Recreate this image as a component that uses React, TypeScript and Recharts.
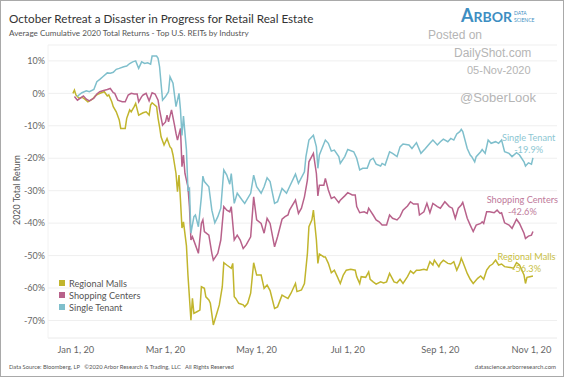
import React from 'react'
import { LineChart, Line, XAxis, YAxis, CartesianGrid } from 'recharts'

document.body.style.margin = '0'

// day index from Jan 1 2020, cumulative total return in %
const regionalMalls: [number, number][] = [
  [-2, 0], [-1, 1.0], [0, -0.5], [2, -1.5], [4, -1.2], [6, -1.8], [8, -2.6], [11, -1.8], [13, -0.8], [15, -0.2],
  [17, 0.2], [19, 0.5], [21, -0.8], [22, -0.5], [24, -2.6], [25, -4.1], [27, -5.7], [29, -8.2], [30, -10.8], [33, -10.8],
  [34, -7.7], [36, -5.1], [37, -5.7], [39, -4.1], [40, -3.1], [42, -6.7], [45, -6.0], [47, -5.7], [49, -6.7], [50, -3.6],
  [51, -2.9], [54, -4.1], [55, -7.7], [56, -10.3], [57, -13.4], [59, -15.9], [60, -14.9], [61, -13.9], [63, -16.5], [64, -17],
  [65, -19], [67, -24.7], [68, -30.3], [69, -25.2], [70, -32.9], [71, -41.5], [72, -39.6], [74, -47], [75, -56], [77, -69.9],
  [78, -63.2], [79, -67.8], [81, -67.3], [83, -66.8], [84, -59.6], [86, -60.1], [87, -62.7], [89, -63.7], [90, -64.7], [92, -71.4],
  [94, -68.3], [96, -65.2], [98, -59.6], [99, -52.2], [101, -52.9], [104, -53.9], [105, -52.4], [106, -62.7], [107, -63.2], [109, -64.7],
  [112, -65.2], [113, -65.8], [115, -64.7], [117, -61.6], [119, -52.2], [121, -56], [124, -56], [126, -60.1], [128, -59.1], [130, -60.8],
  [133, -66.3], [135, -65.8], [138, -62.2], [140, -62.7], [142, -63.2], [144, -61.6], [147, -58.6], [148, -61.1], [151, -60.6], [153, -58.6],
  [155, -49.3], [156, -41.1], [158, -39], [159, -36], [161, -45.2], [162, -52.4], [163, -49.5], [166, -50.4], [167, -50.4], [169, -52.4],
  [171, -55.3], [173, -54.5], [175, -56.5], [177, -58.6], [179, -56], [181, -54.5], [184, -54.2], [187, -54.5], [188, -56.5], [190, -58.6],
  [191, -56.5], [194, -56.7], [196, -55], [197, -57.3], [199, -58.1], [201, -58.8], [204, -58.1], [206, -58.4], [208, -58.1], [210, -55.5],
  [213, -58.1], [215, -58.4], [217, -57.3], [219, -58.6], [222, -56.5], [224, -54.7], [226, -55.5], [228, -54.5], [230, -54.5], [233, -54.2],
  [235, -54.5], [237, -51.9], [239, -52.9], [240, -51.4], [243, -53.4], [244, -52.4], [246, -51.4], [249, -52.4], [251, -52.6], [253, -51.9],
  [255, -54.5], [257, -52.4], [258, -50.8], [259, -51.9], [262, -55.5], [264, -57.3], [266, -58.6], [269, -57], [271, -56.3], [273, -57.3],
  [275, -54.5], [277, -53.2], [279, -52.6], [281, -51.4], [283, -52.9], [285, -52.6], [287, -53.4], [291, -53.7], [293, -53.9], [295, -52.2],
  [297, -52.9], [300, -56], [301, -58.6], [302, -56.7], [304, -56.5], [306, -56.3],
]

const shoppingCenters: [number, number][] = [
  [-1, -1.0], [1, -2.1], [3, -1.5], [5, -0.8], [7, -1.8], [9, -2.3], [12, -1.5], [14, -0.2], [16, 0.5], [18, 0.8],
  [21, 1.2], [23, 1.5], [25, 0.2], [26, 0], [28, -2.1], [31, -2.6], [33, -2.6], [35, -0.5], [37, 0], [39, -0.2],
  [41, -0.2], [42, -2.6], [44, -1.0], [45, -0.5], [47, 0], [49, -2.3], [51, 0.2], [53, -0.2], [55, -2.1], [56, -5.1],
  [58, -9.8], [60, -8.8], [61, -6.7], [62, -8.8], [64, -5.1], [66, -9.8], [67, -12.3], [68, -14.4], [70, -10.8], [71, -22.6],
  [72, -19], [73, -24.7], [75, -28.8], [76, -34.9], [77, -45.2], [78, -44.2], [80, -46.7], [82, -49.3], [84, -40.1], [85, -39],
  [86, -42.6], [89, -43.7], [91, -49.3], [92, -51.4], [95, -49.3], [97, -45.2], [99, -34.9], [101, -36], [103, -36.5], [104, -34.9],
  [106, -45.2], [108, -43.7], [110, -45.2], [112, -47.8], [114, -46.7], [117, -44.2], [119, -31.9], [121, -39], [124, -40.1], [126, -43.1],
  [128, -38.5], [130, -40.1], [133, -47.3], [135, -44.2], [138, -38.8], [140, -38], [142, -37.5], [143, -36], [147, -32.9], [149, -37],
  [151, -35.4], [153, -31.9], [155, -26.7], [156, -21.1], [159, -18.5], [161, -24.7], [162, -31.6], [163, -28.3], [166, -28.3], [167, -26.2],
  [169, -29.8], [171, -32.4], [173, -31.9], [176, -33.7], [177, -32.9], [180, -31.6], [182, -30.6], [185, -31.3], [187, -31.3], [188, -34.9],
  [190, -36.8], [193, -36.5], [195, -37], [196, -35.4], [199, -37.5], [201, -39], [203, -39.6], [205, -40.6], [208, -40.6], [210, -37.5],
  [212, -38.5], [215, -39], [217, -38], [219, -36], [222, -34.7], [224, -33.4], [226, -34.1], [229, -34.1], [230, -37.5], [233, -36.5],
  [235, -33.9], [237, -36.8], [239, -33.9], [242, -34.9], [244, -35.4], [247, -33.4], [250, -34.9], [252, -35.4], [254, -38.5], [256, -35.4],
  [258, -34.4], [259, -33.6], [262, -38.5], [264, -40.6], [266, -42.6], [268, -40.6], [271, -40.1], [272, -39.6], [273, -40.1], [275, -36.5],
  [277, -36.5], [280, -36.8], [282, -36], [284, -37], [285, -36.8], [287, -39.9], [290, -40.6], [292, -41.6], [295, -38.8], [297, -40.1],
  [300, -43.1], [301, -44.7], [303, -44], [305, -43.7], [306, -42.6],
]

const singleTenant: [number, number][] = [
  [1, -1.0], [2, -0.5], [4, 0.2], [7, 0.8], [9, 0.5], [12, 1.2], [14, 3.6], [16, 4.3], [18, 5.1], [21, 6.3],
  [23, 6.2], [25, 6.5], [27, 7.4], [29, 7.7], [32, 8.2], [34, 8.4], [36, 9.2], [38, 9.7], [40, 10.0], [42, 7.7],
  [44, 9.7], [46, 9.2], [48, 9.4], [50, 9.0], [51, 11.5], [54, 11.5], [55, 10.8], [56, 8.2], [58, -2.1], [60, -1.0],
  [62, 0.5], [63, 5.1], [65, 3.1], [67, -4.1], [69, 0], [70, -5.1], [71, -13], [72, -7], [74, -17.5], [75, -29.8],
  [76, -29.3], [77, -43.1], [79, -38], [80, -37.5], [82, -41.1], [84, -31.9], [85, -25.5], [86, -27.2], [89, -28.8], [91, -36],
  [93, -39.9], [95, -38], [97, -35.4], [99, -23.6], [101, -25.2], [103, -28], [104, -24.7], [106, -33.9], [108, -30.8], [111, -32.7],
  [113, -33.9], [117, -30.8], [119, -25.2], [121, -28.8], [124, -30.8], [126, -28.8], [128, -26], [130, -27.2], [133, -33.9], [135, -33.4],
  [138, -29.3], [141, -30.8], [143, -28.8], [147, -24.9], [149, -27.7], [153, -24.2], [154, -19.5], [156, -14.4], [159, -12.9], [161, -16.5],
  [162, -23.1], [163, -19], [167, -14.4], [169, -15.4], [171, -17.8], [173, -17.5], [176, -19.5], [177, -21.6], [180, -19.5], [182, -17.3],
  [186, -18], [188, -20], [190, -23.6], [192, -23.1], [195, -23.1], [197, -20.6], [199, -20], [201, -21.8], [204, -22.4], [205, -21.6],
  [207, -22.1], [210, -18], [212, -18.5], [215, -19.5], [217, -16.5], [219, -15.6], [223, -15.9], [225, -17], [228, -15.2], [231, -18.5],
  [234, -17], [237, -15.4], [239, -14.4], [242, -15.9], [244, -14.9], [246, -14.1], [249, -14.9], [251, -13.9], [253, -14.4], [255, -12.5],
  [257, -11.8], [258, -11.1], [259, -11.8], [262, -17], [264, -19], [265, -19.5], [267, -21.1], [268, -19.5], [271, -18], [272, -17.3],
  [274, -18.5], [276, -14.4], [278, -15.4], [281, -14.9], [283, -15.4], [285, -14.4], [287, -18], [290, -18.5], [292, -19.5], [295, -18.3],
  [297, -19], [300, -21.1], [301, -22.4], [303, -21.4], [305, -21.8], [306, -19.9],
]

const xTicks = [0, 60, 121, 182, 244, 305]
const xTickLabels = ['Jan 1, 20', 'Mar 1, 20', 'May 1, 20', 'Jul 1, 20', 'Sep 1, 20', 'Nov 1, 20']
const yTicks = [10, 0, -10, -20, -30, -40, -50, -60, -70]

const FONT = '"Segoe UI", Lato, "Open Sans", sans-serif'

const SERIES = [
  { name: 'Regional Malls', data: regionalMalls, color: '#c1b52d', labelColor: '#c9bf44', dy: -19 },
  { name: 'Shopping Centers', data: shoppingCenters, color: '#b8628b', labelColor: '#c07a9b', dy: -31.5 },
  { name: 'Single Tenant', data: singleTenant, color: '#7fbfcc', labelColor: '#8ec7d3', dy: -20 },
]

function toRows(pairs: [number, number][]) {
  return pairs.map(([d, v]) => ({ d, v }))
}

function EndLabel(props: any) {
  const { x, y, index, name, count, color, dy } = props
  if (index !== count - 1) return null
  const last = SERIES.find(s => s.name === name)!
  const v = last.data[last.data.length - 1][1]
  const cx = x + 23 - name.length * 2.1
  return (
    <text x={cx} y={y + dy} textAnchor="middle" fill={color} fontSize={9.2} fontFamily={FONT}>
      <tspan x={cx} dy="0.35em">{name}</tspan>
      <tspan x={cx} dy="1.3em">{v.toFixed(1)}%</tspan>
    </text>
  )
}

const wm: React.CSSProperties = {
  position: 'absolute', fontFamily: '"Liberation Sans", Arial, sans-serif', color: '#b5b5b5', whiteSpace: 'nowrap', lineHeight: 1,
}

export default function App() {
  return (
    <div style={{ position: 'relative', width: 564, height: 377, background: '#fff', overflow: 'hidden', fontFamily: FONT }}>
      <LineChart width={564} height={377} margin={{ top: 45, right: 7, bottom: 9, left: 0 }}>
        <CartesianGrid horizontal vertical={false} stroke="#efefef" />
        <XAxis
          type="number"
          dataKey="d"
          domain={[-18.7, 322.1]}
          ticks={xTicks}
          tickFormatter={(v: number) => xTickLabels[xTicks.indexOf(v)]}
          tick={{ fontSize: 9.3, fill: '#666', fontFamily: FONT }}
          tickLine={false}
          axisLine={{ stroke: '#f2f2f2' }}
          allowDataOverflow
          height={30}
        />
        <YAxis
          type="number"
          domain={[-75.4, 14.9]}
          ticks={yTicks}
          tickFormatter={(v: number) => `${v}%`}
          tick={{ fontSize: 9, fill: '#666', fontFamily: FONT }}
          tickLine={false}
          tickSize={0}
          tickMargin={3}
          axisLine={{ stroke: '#f2f2f2' }}
          allowDataOverflow
          width={48}
        />
        {SERIES.map(s => (
          <Line
            key={s.name}
            data={toRows(s.data)}
            dataKey="v"
            type="linear"
            stroke={s.color}
            strokeWidth={1.5}
            dot={false}
            isAnimationActive={false}
            label={(p: any) => (
              <EndLabel key={`l${p.index}`} {...p} name={s.name} count={s.data.length} color={s.labelColor} dy={s.dy} />
            )}
          />
        ))}
      </LineChart>

      {/* titles */}
      <div style={{ position: 'absolute', left: 9, top: 11, fontSize: 11.7, color: '#333', whiteSpace: 'nowrap' }}>
        October Retreat a Disaster in Progress for Retail Real Estate
      </div>
      <div style={{ position: 'absolute', left: 9, top: 28, fontSize: 8.1, color: '#555', whiteSpace: 'nowrap' }}>
        Average Cumulative 2020 Total Returns - Top U.S. REITs by Industry
      </div>

      {/* y axis title */}
      <div style={{
        position: 'absolute', left: 16, top: 190, transform: 'translate(-50%, -50%) rotate(-90deg)',
        fontSize: 8.9, color: '#555', whiteSpace: 'nowrap',
      }}>
        2020 Total Return
      </div>

      {/* legend */}
      <div style={{ position: 'absolute', left: 59, top: 277 }}>
        {SERIES.map(s => (
          <div key={s.name} style={{ display: 'flex', alignItems: 'center', height: 12, fontSize: 9.2, color: '#555', whiteSpace: 'nowrap' }}>
            <span style={{ width: 6, height: 6, background: s.color, marginRight: 4 }} />
            {s.name}
          </div>
        ))}
      </div>

      {/* logo */}
      <div style={{ position: 'absolute', left: 461, top: 6, color: '#3d8ec2', fontFamily: 'Lato, sans-serif', fontWeight: 700, whiteSpace: 'nowrap', lineHeight: 1 }}>
        <span style={{ fontSize: 18 }}>A</span><span style={{ fontSize: 14 }}>RBOR</span>
      </div>
      <div style={{ position: 'absolute', left: 514, top: 10, color: '#3d8ec2', fontSize: 5, lineHeight: '7px', fontFamily: 'Lato, sans-serif' }}>
        DATA<br />SCIENCE
      </div>

      {/* watermark */}
      <div style={{ ...wm, left: 428, top: 29, fontSize: 12 }}>Posted on</div>
      <div style={{ ...wm, left: 454, top: 47, fontSize: 12 }}>DailyShot.com</div>
      <div style={{ ...wm, left: 467, top: 65, fontSize: 11 }}>05-Nov-2020</div>
      <div style={{ ...wm, left: 460, top: 91, fontSize: 13 }}>@SoberLook</div>

      {/* footer */}
      <div style={{ position: 'absolute', left: 9, top: 363, fontSize: 5.8, color: '#555', whiteSpace: 'nowrap' }}>
        Data Source: Bloomberg, LP&nbsp;&nbsp;&nbsp;©2020 Arbor Research &amp; Trading, LLC&nbsp;&nbsp;&nbsp;All Rights Reserved
      </div>
      <div style={{ position: 'absolute', right: 8, top: 363, fontSize: 6, color: '#555', whiteSpace: 'nowrap' }}>
        datascience.arborresearch.com
      </div>

      <div style={{ position: 'absolute', inset: 0, border: '1px solid #a9a9a9', pointerEvents: 'none' }} />
    </div>
  )
}
